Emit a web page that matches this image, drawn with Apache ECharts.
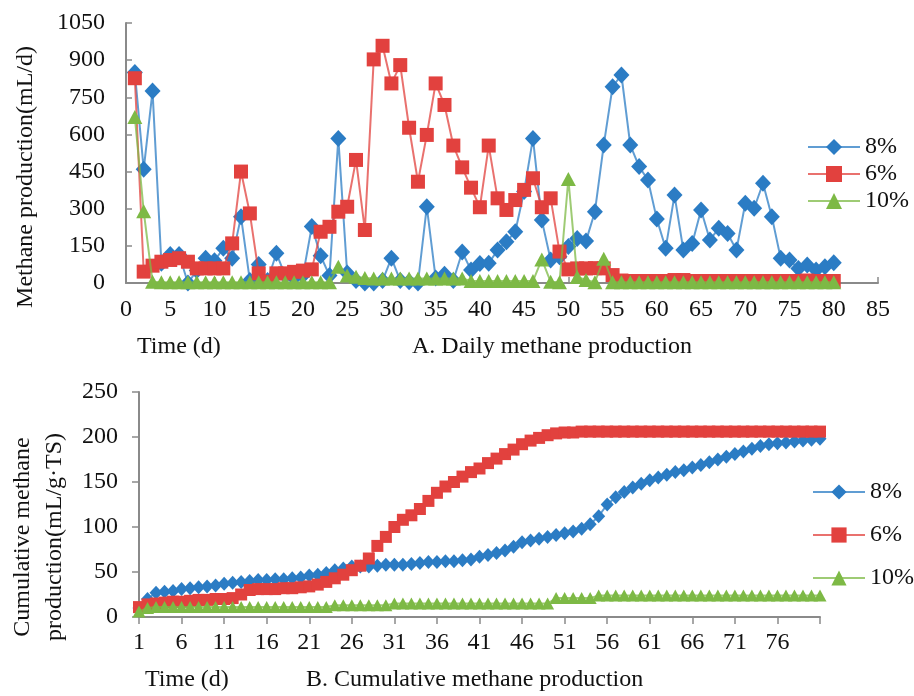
<!DOCTYPE html>
<html>
<head>
<meta charset="utf-8">
<script src="https://cdn.jsdelivr.net/npm/echarts@6/dist/echarts.min.js"></script>
<style>
  html, body { margin: 0; padding: 0; background: #ffffff; }
  #chart { width: 914px; height: 696px; }
</style>
</head>
<body>
<div id="chart"></div>
<script>
// ---- A. Daily methane production (mL/d) ----
const days = [1,2,3,4,5,6,7,8,9,10,11,12,13,14,15,16,17,18,19,20,
  21,22,23,24,25,26,27,28,29,30,31,32,33,34,35,36,37,38,39,40,
  41,42,43,44,45,46,47,48,49,50,51,52,53,54,55,56,57,58,59,60,
  61,62,63,64,65,66,67,68,69,70,71,72,73,74,75,76,77,78,79,80];

const daily8 = [850,459,775,80,115,115,0,50,100,90,
  140,100,268,10,75,10,120,30,20,30,
  228,110,30,584,40,10,0,0,10,100,
  10,5,0,308,20,35,10,125,52,79,
  80,133,167,207,370,584,254,93,106,147,
  180,170,288,557,793,840,557,470,416,258,
  140,355,133,160,295,174,221,200,133,322,
  302,403,268,100,93,59,73,52,66,82];

const daily6 = [827,46,70,86,93,100,86,59,59,59,
  59,160,450,281,39,5,39,39,45,50,
  55,207,227,288,308,497,214,903,958,806,
  880,627,409,598,806,719,555,467,385,306,
  555,342,295,335,376,423,306,342,127,55,
  59,59,60,59,32,10,8,8,8,8,
  8,12,12,8,8,8,8,8,8,8,
  8,8,8,8,8,8,10,8,8,8];

const daily10 = [670,290,5,3,3,3,3,3,3,3,
  3,3,3,3,3,3,3,3,3,3,
  3,3,3,66,30,25,20,18,18,18,
  18,18,18,18,18,18,18,18,8,8,
  8,8,8,8,8,8,95,5,3,420,
  24,12,3,98,3,3,3,3,3,3,
  3,3,3,3,3,3,3,3,3,3,
  3,3,3,3,3,3,3,3,3,3];

// ---- B. Cumulative methane production (mL/g·TS) ----
const cumDays = ['1','2','3','4','5','6','7','8','9','10','11','12','13','14','15','16','17','18','19','20',
  '21','22','23','24','25','26','27','28','29','30','31','32','33','34','35','36','37','38','39','40',
  '41','42','43','44','45','46','47','48','49','50','51','52','53','54','55','56','57','58','59','60',
  '61','62','63','64','65','66','67','68','69','70','71','72','73','74','75','76','77','78','79','80','81'];
const cumTickLabels = ['1','6','11','16','21','26','31','36','41','46','51','56','61','66','71','76'];

const cum8 = [10,20,27,28,29,31,32,33,34,35,
  37,38,39,40,41,41,42,42,43,44,
  46,47,49,52,54,56,56,56,57,58,
  58,58,59,60,61,61,62,62,63,64,
  67,69,71,74,78,83,85,87,89,91,
  93,95,98,103,112,125,133,139,144,148,
  152,155,158,161,163,166,169,172,175,178,
  181,184,187,190,192,193,194,195,196,197,198];

const cum6 = [11,14,15,16,17,17,18,19,19,20,
  20,21,25,30,31,31,31,32,32,33,
  34,36,39,43,47,52,57,65,79,89,
  100,108,113,120,129,138,145,150,156,161,
  165,171,176,181,186,192,196,199,202,204,
  205,205,206,206,206,206,206,206,206,206,
  206,206,206,206,206,206,206,206,206,206,
  206,206,206,206,206,206,206,206,206,206,206];

const cum10 = [6,10,11,11,11,11,11,11,11,11,
  11,11,11,11,11,11,11,11,11,11,
  11,11,11,13,13,13,13,13,13,13,
  15,15,15,15,15,15,15,15,15,15,
  15,15,15,15,15,15,15,15,15,21,
  21,21,21,21,24,24,24,24,24,24,
  24,24,24,24,24,24,24,24,24,24,
  24,24,24,24,24,24,24,24,24,24,24];

const seriesNames = ['8%', '6%', '10%'];
const colors = ['#2b7cc4', '#e2413e', '#7db945'];
const symbols = ['diamond', 'rect', 'triangle'];

const FONT = '"Liberation Serif", "Times New Roman", serif';
const FONT_SIZE = 24;
const AXIS_COLOR = '#8a8a8a';
const TEXT_COLOR = '#111111';

const chart = echarts.init(document.getElementById('chart'), null, { renderer: 'canvas' });

function pairs(xs, ys) { return xs.map((x, i) => [x, ys[i]]); }

const topSymbolSize = [[16, 17], 14, [15, 14]];
const botSymbolSize = [[13, 14], 12, [13, 12]];

const dailySets = [daily8, daily6, daily10];
const cumSets = [cum8, cum6, cum10];

const series = [];
dailySets.forEach((vals, k) => {
  series.push({
    name: seriesNames[k], type: 'line', xAxisIndex: 0, yAxisIndex: 0,
    data: pairs(days, vals),
    symbol: symbols[k], symbolSize: topSymbolSize[k], showAllSymbol: true,
    itemStyle: { color: colors[k] },
    lineStyle: { color: colors[k], width: 2, opacity: 0.75 },
    z: 2 + k
  });
});
cumSets.forEach((vals, k) => {
  series.push({
    name: seriesNames[k], type: 'line', xAxisIndex: 1, yAxisIndex: 1,
    data: vals,
    symbol: symbols[k], symbolSize: botSymbolSize[k], showAllSymbol: true,
    itemStyle: { color: colors[k] },
    lineStyle: { color: colors[k], width: 2, opacity: 0.75 },
    z: 2 + k
  });
});

const axisLabelStyle = { color: TEXT_COLOR, fontFamily: FONT, fontSize: FONT_SIZE };
const legendText = { color: TEXT_COLOR, fontFamily: FONT, fontSize: FONT_SIZE, lineHeight: 24 };
const plainNumber = v => String(v);

const option = {
  animation: false,
  backgroundColor: '#ffffff',
  grid: [
    { left: 126, top: 23, width: 752, height: 260, containLabel: false, outerBoundsMode: 'none' },
    { left: 139, top: 392, width: 681, height: 225, containLabel: false, outerBoundsMode: 'none' }
  ],
  xAxis: [
    {
      gridIndex: 0, type: 'value', min: 0, max: 85, interval: 5,
      axisLine: { lineStyle: { color: AXIS_COLOR, width: 2 } },
      axisTick: { show: true, inside: true, length: 6, lineStyle: { color: AXIS_COLOR, width: 1.5 } },
      axisLabel: Object.assign({ margin: 15, formatter: plainNumber }, axisLabelStyle),
      splitLine: { show: false }
    },
    {
      gridIndex: 1, type: 'category', data: cumDays, boundaryGap: false,
      axisLine: { lineStyle: { color: AXIS_COLOR, width: 2 } },
      axisTick: { show: true, inside: false, length: 7, interval: 4, lineStyle: { color: AXIS_COLOR, width: 1.5 } },
      axisLabel: Object.assign({
        margin: 14, interval: 4,
        formatter: v => (cumTickLabels.indexOf(v) >= 0 ? v : '')
      }, axisLabelStyle),
      splitLine: { show: false }
    }
  ],
  yAxis: [
    {
      gridIndex: 0, type: 'value', min: 0, max: 1050, interval: 150,
      axisLine: { show: true, lineStyle: { color: AXIS_COLOR, width: 2 } },
      axisTick: { show: true, inside: true, length: 6, lineStyle: { color: AXIS_COLOR, width: 1.5 } },
      axisLabel: Object.assign({ margin: 21, formatter: plainNumber }, axisLabelStyle),
      splitLine: { show: false }
    },
    {
      gridIndex: 1, type: 'value', min: 0, max: 250, interval: 50,
      axisLine: { show: true, lineStyle: { color: AXIS_COLOR, width: 2 } },
      axisTick: { show: true, inside: false, length: 7, lineStyle: { color: AXIS_COLOR, width: 1.5 } },
      axisLabel: Object.assign({ margin: 21, formatter: plainNumber }, axisLabelStyle),
      splitLine: { show: false }
    }
  ],
  legend: [
    {
      orient: 'vertical', left: 802, top: 130,
      itemWidth: 52, itemHeight: 20, itemGap: 3,
      selectedMode: false,
      data: seriesNames, textStyle: legendText
    },
    {
      orient: 'vertical', left: 807, top: 475,
      itemWidth: 52, itemHeight: 19, itemGap: 19,
      selectedMode: false,
      data: seriesNames, textStyle: legendText
    }
  ],
  graphic: [
    { type: 'text', x: 26, y: 177, rotation: Math.PI / 2,
      style: { text: 'Methane production(mL/d)', font: FONT_SIZE + 'px ' + FONT, fill: TEXT_COLOR, align: 'center', verticalAlign: 'middle' } },
    { type: 'text', x: 137, y: 347,
      style: { text: 'Time (d)', font: FONT_SIZE + 'px ' + FONT, fill: TEXT_COLOR, align: 'left', verticalAlign: 'middle' } },
    { type: 'text', x: 412, y: 347,
      style: { text: 'A. Daily methane production', font: FONT_SIZE + 'px ' + FONT, fill: TEXT_COLOR, align: 'left', verticalAlign: 'middle' } },
    { type: 'text', x: 23, y: 537, rotation: Math.PI / 2,
      style: { text: 'Cumulative methane', font: FONT_SIZE + 'px ' + FONT, fill: TEXT_COLOR, align: 'center', verticalAlign: 'middle' } },
    { type: 'text', x: 55, y: 537, rotation: Math.PI / 2,
      style: { text: 'production(mL/g·TS)', font: FONT_SIZE + 'px ' + FONT, fill: TEXT_COLOR, align: 'center', verticalAlign: 'middle' } },
    { type: 'text', x: 145, y: 680,
      style: { text: 'Time (d)', font: FONT_SIZE + 'px ' + FONT, fill: TEXT_COLOR, align: 'left', verticalAlign: 'middle' } },
    { type: 'text', x: 306, y: 680,
      style: { text: 'B. Cumulative methane production', font: FONT_SIZE + 'px ' + FONT, fill: TEXT_COLOR, align: 'left', verticalAlign: 'middle' } }
  ],
  series: series
};

chart.setOption(option);
</script>
</body>
</html>
